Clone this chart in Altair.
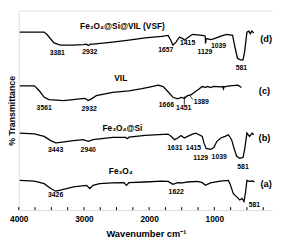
import altair as alt
import pandas as pd

# ---- data (wavenumber cm-1, transmittance in arbitrary offset units) ----
d_wn = [3985, 3610, 3560, 3460, 3360, 3185, 3010, 2960, 2932, 2900, 2860, 2560, 2310, 2060, 1810,
        1710, 1670, 1635, 1585, 1535, 1485, 1460, 1410, 1335, 1185, 1140, 1135, 1125, 1110, 1060,
        1010, 910, 810, 720, 685, 645, 600, 560, 535, 500, 470, 450, 425, 395]
d_t = [182, 182, 179, 171, 168.7, 168.7, 169.3, 169.7, 168.3, 169.7, 169.7, 171.7, 173.7, 176, 177.7,
       178.7, 174, 168.7, 172, 177, 175.3, 173.7, 176.3, 179.7, 178.7, 178, 170.3, 175, 175.3, 174.3,
       175, 177.7, 179.7, 178.7, 167, 155.3, 153.7, 153.7, 162, 182, 183, 180.3, 183, 181]

c_wn = [3985, 3760, 3685, 3610, 3535, 3310, 3060, 2985, 2935, 2885, 2810, 2560, 2310, 2110, 1960,
        1860, 1785, 1710, 1635, 1560, 1510, 1460, 1410, 1360, 1310, 1235, 1185, 1130, 1100, 1060,
        1010, 960, 900, 870, 860, 850, 760, 635, 585]
c_t = [127, 127, 122, 115.3, 113, 112, 113.7, 114.3, 112, 113.7, 117, 120.3, 122, 124.3, 126.3,
       127.7, 126.3, 121, 115.3, 113.7, 115.3, 114.3, 117, 117.7, 120.3, 123.7, 126.3, 125.5, 126.5, 125.3,
       126.5, 126.3, 126, 126.3, 124, 126, 127, 127.7, 125.3]

b_wn = [3985, 3760, 3610, 3510, 3435, 3360, 3160, 3010, 2935, 2860, 2560, 2360, 2335, 2310, 2060,
        1710, 1660, 1610, 1560, 1510, 1460, 1410, 1335, 1285, 1235, 1185, 1160, 1125, 1060, 1010,
        960, 900, 835, 785, 735, 700, 660, 610, 560, 535, 500, 460, 420, 395]
b_t = [78.7, 78, 75.3, 71, 68.7, 69.3, 71, 72, 70.3, 72, 74.3, 74.3, 73, 74.5, 76.3,
       77.7, 75.3, 72, 73.7, 76.3, 73.7, 75.3, 77.7, 78.7, 77, 75.3, 68.7, 63, 62, 63.7,
       70.3, 73.7, 75.3, 77, 72, 63.7, 55.3, 53, 53.7, 62, 78.7, 75.3, 78.7, 77]

a_wn = [3985, 3760, 3610, 3510, 3435, 3360, 3160, 2960, 2910, 2860, 2760, 2560, 2385, 2350, 2310,
        2060, 1810, 1710, 1635, 1560, 1485, 1410, 1260, 1185, 1135, 1060, 910, 785, 760, 710,
        660, 610, 575, 545, 520, 500, 460, 410, 385]
a_t = [30.3, 29.7, 27, 22, 19.3, 20.3, 23.7, 25.3, 22, 25.3, 27, 27.7, 28, 25.3, 28,
       28.7, 29.7, 29.3, 26.3, 28, 27.7, 28.7, 29.3, 28, 25.3, 27.7, 29.7, 30.3, 27, 17,
       13.7, 10.3, 12, 8.7, 18.7, 30.3, 29.3, 29.7, 28.7]

# annotations: (wavenumber, transmittance, text, kind)
lab_text = ["Fe₃O₄@Si@VIL (VSF)", "3381", "2932", "1657", "1415", "1129", "1039", "581", "(d)",
            "VIL", "3561", "2932", "1666", "1451", "1389", "(c)",
            "Fe₃O₄@Si", "3443", "2940", "1631", "1415", "1129", "1039", "581", "(b)",
            "Fe₃O₄", "3426", "1622", "581", "(a)"]
lab_wn = [2410, 3410, 2910, 1745, 1410, 1145, 935, 585, 205,
          2435, 3610, 2920, 1735, 1470, 1200, 230,
          2410, 3435, 2935, 1605, 1320, 1210, 925, 560, 230,
          2435, 3435, 1585, 385, 205]
lab_t = [187.7, 161, 161.5, 163.7, 171, 162, 167.7, 145, 175.3,
         135.3, 104.3, 103.7, 107.7, 104, 110.3, 122,
         84.3, 61, 61.3, 63.7, 63.7, 53.7, 54.3, 44.3, 73.7,
         40.3, 15.3, 18.7, 5.3, 27]
lab_kind = ["name", "n", "n", "n", "n", "n", "n", "n", "tag",
            "name", "n", "n", "n", "n", "n", "tag",
            "name", "n", "n", "n", "n", "n", "n", "n", "tag",
            "name", "n", "n", "n", "tag"]

# small marker lines to peak labels in (c)
mk_wn = [1460, 1385]
mk_wn2 = [1460, 1330]
mk_t = [116.3, 118]
mk_t2 = [107.7, 113]

major_ticks = [4000, 3500, 3000, 2500, 2000, 1500, 1000, 500]
all_ticks = [4000, 3750, 3500, 3250, 3000, 2750, 2500, 2250, 2000, 1750, 1500, 1250, 1000, 750, 500, 250]

rows = []
for name, wn, t in [("d", d_wn, d_t), ("c", c_wn, c_t), ("b", b_wn, b_t), ("a", a_wn, a_t)]:
    for i, (w, v) in enumerate(zip(wn, t)):
        rows.append({"series": name, "idx": i, "wn": w, "t": v})
df = pd.DataFrame(rows)
labels = pd.DataFrame({"wn": lab_wn, "t": lab_t, "text": lab_text, "kind": lab_kind})
markers = pd.DataFrame({"wn": mk_wn, "wn2": mk_wn2, "t": mk_t, "t2": mk_t2})
ticks = pd.DataFrame({"wn": all_ticks})

FONT = "Liberation Sans"
W, H = 260, 204

xscale = alt.Scale(domain=[4000, 100], nice=False, zero=False)
yscale = alt.Scale(domain=[0, 204], nice=False, zero=False)

x_enc = alt.X("wn:Q", scale=xscale,
              axis=alt.Axis(values=major_ticks, title="Wavenumber cm⁻¹", format="d",
                            tickSize=0, labelPadding=5, domain=False, grid=False,
                            labelFontSize=8.5, labelFontWeight="bold", labelFont=FONT,
                            titleFontSize=9.5, titleFontWeight="bold", titleFont=FONT,
                            titlePadding=6, labelColor="black", titleColor="black",
                            labelFlush=False))
y_enc = alt.Y("t:Q", scale=yscale,
              axis=alt.Axis(title="% Transmittance", labels=False, ticks=False, domain=False,
                            grid=False, titleFontSize=9, titleFontWeight="bold", titleFont=FONT,
                            titlePadding=2, titleColor="black"))

lines = alt.Chart(df).mark_line(color="black", strokeWidth=1.3).encode(
    x=x_enc, y=y_enc, detail="series:N", order="idx:Q")

def text_layer(kind, size):
    return alt.Chart(labels).transform_filter(alt.datum.kind == kind).mark_text(
        font=FONT, fontWeight="bold", fontSize=size, color="black"
    ).encode(x=alt.X("wn:Q", scale=xscale), y=alt.Y("t:Q", scale=yscale), text="text:N")

mk = alt.Chart(markers).mark_rule(color="black", strokeWidth=0.8).encode(
    x=alt.X("wn:Q", scale=xscale), x2="wn2:Q",
    y=alt.Y("t:Q", scale=yscale), y2="t2:Q")

tk = alt.Chart(ticks).mark_rule(color="black", strokeWidth=1).encode(
    x=alt.X("wn:Q", scale=xscale), y=alt.value(H), y2=alt.value(H - 3))

chart = alt.layer(lines, mk, tk, text_layer("n", 7), text_layer("name", 8.5), text_layer("tag", 9.5)).properties(
    width=W, height=H, padding={"left": 0, "top": 0, "right": 0, "bottom": 0}
).configure_view(stroke="black", strokeWidth=1.3).configure(background="white")

chart.save("out.html", embed_options={"renderer": "svg", "actions": False})
